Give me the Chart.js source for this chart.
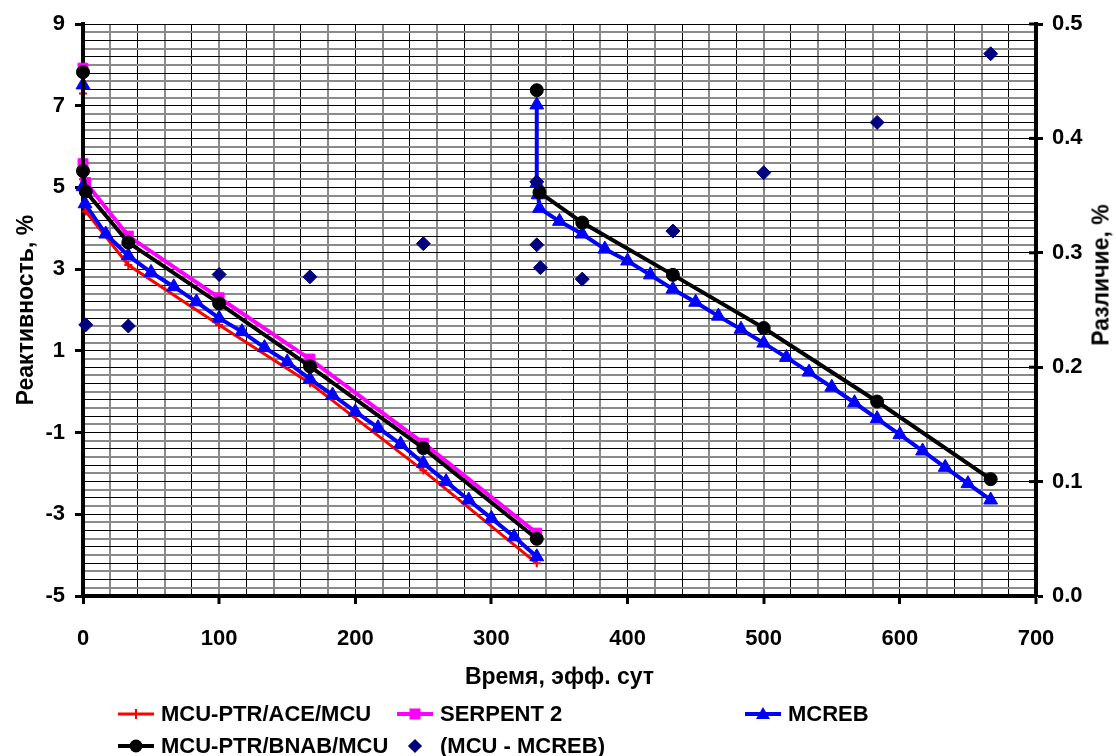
<!DOCTYPE html>
<html>
<head>
<meta charset="utf-8">
<script src="https://cdn.jsdelivr.net/npm/chart.js@4.4.0/dist/chart.umd.min.js"></script>
<style>
    body { margin: 0; background: #fff; }
    #wrap { position: relative; width: 1116px; height: 756px; font-family: Arial, "Liberation Sans", sans-serif; color: #000; }
    #chart { position: absolute; left: 0; top: 0; }
    .ttl-right { position: absolute; left: 1101px; top: 275px; transform: translate(-50%, -50%) rotate(-90deg);
                 font-weight: bold; font-size: 23px; white-space: nowrap; }
    .leg { position: absolute; display: flex; align-items: center; font-weight: bold; font-size: 22px; white-space: nowrap; }
    .sym { position: relative; width: 36px; height: 20px; margin-right: 7px; }
    .sym .ln { position: absolute; left: 0; right: 0; top: 50%; transform: translateY(-50%); }
    .sym .mk { position: absolute; left: 50%; top: 50%; transform: translate(-50%, -50%); }
</style>
</head>
<body>
<div id="wrap">
    <canvas id="chart" width="1116" height="756"></canvas>
    <div class="ttl-right">Различие, %</div>
    <div id="legend"></div>
</div>
<script>
// Time, eff. days / reactivity, %
const aceTime = [0, 0, 2, 33.3, 100, 166.7, 250, 333.3];
const aceReact = [7.30, 5.20, 4.41, 3.10, 1.63, 0.21, -1.93, -4.20];

const serpentTime = [0, 0, 2, 33.3, 100, 166.7, 250, 333.3];
const serpentReact = [7.92, 5.58, 5.12, 3.81, 2.30, 0.80, -1.26, -3.46];

// null = break in the line
const bnabTime = [0, 0, 2, 33.3, 100, 166.7, 250, 333.3, 333.3, 333.3, 333.3, 335.3, 366.7, 433.3, 500, 583.3, 666.7];
const bnabReact = [7.82, 5.40, 4.90, 3.65, 2.16, 0.62, -1.38, -3.60, null, 7.38, null, 4.88, 4.14, 2.86, 1.56, -0.24, -2.14];

const mcrebTime = [0, 0, 1.5, 16.7, 33.3, 50, 66.7, 83.3, 100, 116.7, 133.3, 150, 166.7, 183.3, 200, 216.7, 233.3, 250, 266.7, 283.3, 300, 316.7, 333.3,
    333.3,
    333.3, 333.3, 334.3, 335.3, 350, 366.7, 383.3, 400, 416.7, 433.3, 450, 466.7, 483.3, 500, 516.7, 533.3, 550, 566.7, 583.3, 600, 616.7, 633.3, 650, 666.7];
const mcrebReact = [7.51, 5.02, 4.60, 3.86, 3.33, 2.92, 2.57, 2.20, 1.80, 1.47, 1.08, 0.73, 0.31, -0.08, -0.49, -0.88, -1.28, -1.75, -2.20, -2.65, -3.10, -3.55, -4.04,
    null,
    7.02, 5.10, 4.82, 4.49, 4.17, 3.86, 3.49, 3.20, 2.86, 2.51, 2.19, 1.85, 1.53, 1.19, 0.84, 0.48, 0.11, -0.27, -0.66, -1.05, -1.45, -1.85, -2.25, -2.65];

// difference MCU - MCREB, right axis
const diffTime = [2, 33.3, 100, 166.7, 250, 333.3, 333.3, 336, 366.7, 433.3, 500, 583.3, 666.7];
const diffVal = [0.237, 0.236, 0.281, 0.279, 0.308, 0.362, 0.307, 0.287, 0.277, 0.319, 0.370, 0.414, 0.474];

// tick labels
const xTickLabels = [0, 100, 200, 300, 400, 500, 600, 700];
const yTickLabels = [-5, -3, -1, 1, 3, 5, 7, 9];
const y2TickLabels = [0, 0.1, 0.2, 0.3, 0.4, 0.5];

const FONT = 'Arial, "Liberation Sans", sans-serif';

function toPoints(xs, ys) {
    return xs.map((x, i) => ({ x: x, y: ys[i] }));
}

function isLabel(list, v) {
    return list.some(l => Math.abs(l - v) < 1e-6);
}

// alternating dark / grey grid, like the original
function gridColor(ctx) {
    return ctx.index % 2 === 0 ? '#000000' : '#8a8a8a';
}
function gridWidth(ctx) {
    return ctx.index % 2 === 0 ? 1 : 2;
}

// small tick marks inside the right axis (they cross the axis line)
const crossTicks = {
    id: 'crossTicks',
    afterDraw(chart) {
        const s = chart.scales.y2;
        const ctx = chart.ctx;
        ctx.save();
        ctx.strokeStyle = '#000';
        ctx.lineWidth = 3;
        y2TickLabels.forEach(v => {
            const py = s.getPixelForValue(v);
            ctx.beginPath();
            ctx.moveTo(s.left - 7, py);
            ctx.lineTo(s.left, py);
            ctx.stroke();
        });
        ctx.restore();
    }
};

const ctx = document.getElementById('chart').getContext('2d');
const chart = new Chart(ctx, {
    type: 'scatter',
    data: {
        datasets: [
            {
                label: 'MCU-PTR/ACE/MCU',
                data: toPoints(aceTime, aceReact),
                showLine: true,
                borderColor: '#ff0000',
                borderWidth: 3,
                pointStyle: 'cross',
                pointRadius: 4,
                pointBorderWidth: 2,
                pointBorderColor: '#ff0000',
                order: 5,
                yAxisID: 'y'
            },
            {
                label: 'SERPENT 2',
                data: toPoints(serpentTime, serpentReact),
                showLine: true,
                borderColor: '#ff00ff',
                borderWidth: 4,
                pointStyle: 'rect',
                pointRadius: 7,
                pointBackgroundColor: '#ff00ff',
                pointBorderColor: '#ff00ff',
                pointBorderWidth: 1,
                order: 4,
                yAxisID: 'y'
            },
            {
                label: 'MCREB',
                data: toPoints(mcrebTime, mcrebReact),
                showLine: true,
                spanGaps: false,
                borderColor: '#0000ff',
                borderWidth: 4,
                pointStyle: 'triangle',
                pointRadius: 8,
                pointBackgroundColor: '#0000ff',
                pointBorderColor: '#0000ff',
                pointBorderWidth: 1,
                order: 3,
                yAxisID: 'y'
            },
            {
                label: 'MCU-PTR/BNAB/MCU',
                data: toPoints(bnabTime, bnabReact),
                showLine: true,
                spanGaps: false,
                borderColor: '#000000',
                borderWidth: 4,
                pointStyle: 'circle',
                pointRadius: 6.5,
                pointBackgroundColor: '#000000',
                pointBorderColor: '#000000',
                pointBorderWidth: 1,
                order: 2,
                yAxisID: 'y'
            },
            {
                label: '(MCU - MCREB)',
                data: toPoints(diffTime, diffVal),
                showLine: false,
                pointStyle: 'rectRot',
                pointRadius: 7,
                pointBackgroundColor: '#000080',
                pointBorderColor: '#000080',
                pointBorderWidth: 1,
                order: 1,
                yAxisID: 'y2'
            }
        ]
    },
    options: {
        responsive: false,
        animation: false,
        devicePixelRatio: 1,
        clip: false,
        layout: { padding: { top: 24, left: 0, right: 0, bottom: 0 } },
        plugins: {
            legend: { display: false },
            tooltip: { enabled: false }
        },
        scales: {
            x: {
                type: 'linear',
                min: 0,
                max: 700,
                afterFit: function (scale) { scale.height = 160; },
                ticks: {
                    stepSize: 20,
                    autoSkip: false,
                    maxRotation: 0,
                    padding: 22,
                    color: '#000',
                    font: { family: FONT, size: 22, weight: 'bold' },
                    callback: v => isLabel(xTickLabels, v) ? String(Math.round(v)) : ''
                },
                grid: {
                    color: gridColor,
                    lineWidth: gridWidth,
                    tickLength: 8,
                    tickWidth: 3,
                    tickColor: c => isLabel(xTickLabels, c.tick.value) ? '#000' : 'rgba(0,0,0,0)'
                },
                border: { display: true, color: '#000', width: 4 },
                title: {
                    display: true,
                    text: 'Время, эфф. сут',
                    color: '#000',
                    font: { family: FONT, size: 23, weight: 'bold' },
                    padding: { top: 0, bottom: 65 }
                }
            },
            y: {
                type: 'linear',
                position: 'left',
                min: -5,
                max: 9,
                afterFit: function (scale) { scale.width = 83; },
                ticks: {
                    stepSize: 0.2,
                    autoSkip: false,
                    padding: 10,
                    color: '#000',
                    font: { family: FONT, size: 22, weight: 'bold' },
                    callback: v => isLabel(yTickLabels, v) ? String(Math.round(v)) : ''
                },
                grid: {
                    color: gridColor,
                    lineWidth: gridWidth,
                    tickLength: 8,
                    tickWidth: 3,
                    tickColor: c => isLabel(yTickLabels, c.tick.value) ? '#000' : 'rgba(0,0,0,0)'
                },
                border: { display: true, color: '#000', width: 4 },
                title: {
                    display: true,
                    text: 'Реактивность, %',
                    color: '#000',
                    font: { family: FONT, size: 23, weight: 'bold' },
                    padding: { top: 13, bottom: 0 }
                }
            },
            y2: {
                type: 'linear',
                position: 'right',
                min: 0,
                max: 0.5,
                afterFit: function (scale) { scale.width = 80; },
                ticks: {
                    stepSize: 0.1,
                    autoSkip: false,
                    padding: 9,
                    color: '#000',
                    font: { family: FONT, size: 22, weight: 'bold' },
                    callback: v => v.toFixed(1)
                },
                grid: {
                    drawOnChartArea: false,
                    tickLength: 7,
                    tickWidth: 3,
                    tickColor: '#000'
                },
                border: { display: true, color: '#000', width: 4 }
            }
        }
    },
    plugins: [crossTicks]
});

// legend, laid out in columns like the original
const legendItems = [
    { text: 'MCU-PTR/ACE/MCU', left: 118, top: 713, line: '#ff0000', lw: 3, mark: 'cross' },
    { text: 'SERPENT 2', left: 397, top: 713, line: '#ff00ff', lw: 4, mark: 'square' },
    { text: 'MCREB', left: 745, top: 713, line: '#0000ff', lw: 4, mark: 'triangle' },
    { text: 'MCU-PTR/BNAB/MCU', left: 118, top: 745, line: '#000000', lw: 4, mark: 'circle' },
    { text: '(MCU - MCREB)', left: 397, top: 745, line: null, lw: 0, mark: 'diamond' }
];

function markerHtml(m) {
    if (m === 'cross') return '<div class="mk" style="width:2px;height:10px;background:#ff0000"></div>';
    if (m === 'square') return '<div class="mk" style="width:11px;height:11px;background:#ff00ff"></div>';
    if (m === 'triangle') return '<div class="mk" style="width:0;height:0;border-left:7px solid transparent;border-right:7px solid transparent;border-bottom:12px solid #0000ff;margin-top:-1px"></div>';
    if (m === 'circle') return '<div class="mk" style="width:13px;height:13px;border-radius:50%;background:#000"></div>';
    return '<div class="mk" style="width:10px;height:10px;background:#000080;transform:translate(-50%,-50%) rotate(45deg)"></div>';
}

const legendBox = document.getElementById('legend');
legendItems.forEach(item => {
    const el = document.createElement('div');
    el.className = 'leg';
    el.style.left = item.left + 'px';
    el.style.top = (item.top - 12) + 'px';
    const ln = item.line ? `<div class="ln" style="height:${item.lw}px;background:${item.line}"></div>` : '';
    el.innerHTML = `<div class="sym">${ln}${markerHtml(item.mark)}</div><span>${item.text}</span>`;
    legendBox.appendChild(el);
});
</script>
</body>
</html>
